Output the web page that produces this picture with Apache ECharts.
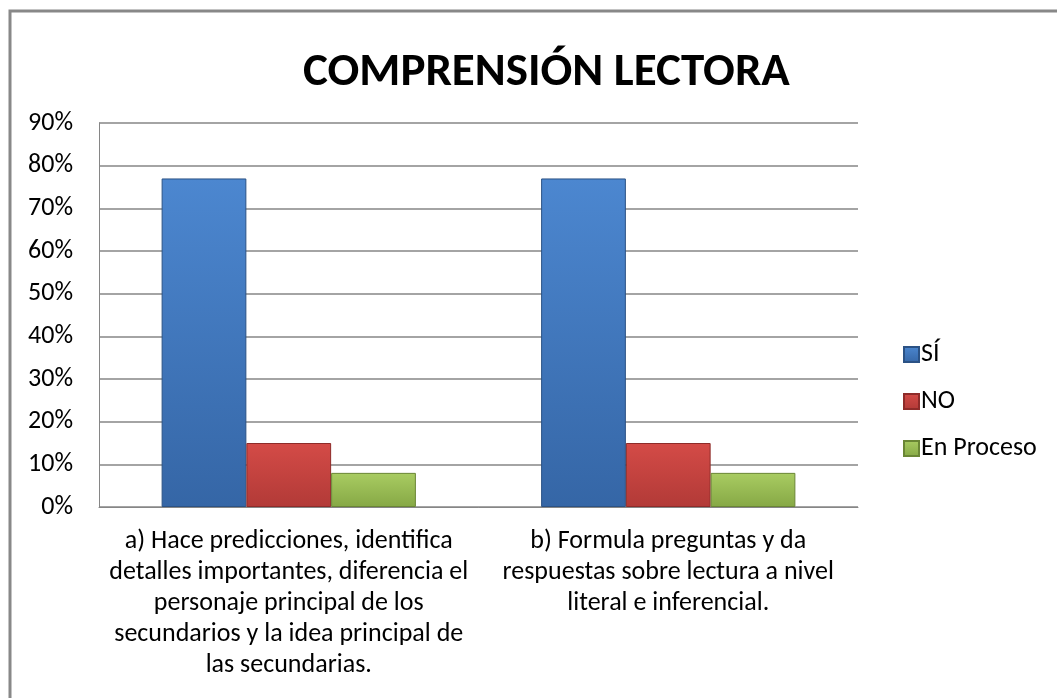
<!DOCTYPE html>
<html><head><meta charset="utf-8">
<script src="https://cdn.jsdelivr.net/npm/echarts@6/dist/echarts.min.js"></script>
<style>html,body{margin:0;padding:0;background:#fff}#c{width:1057px;height:698px}</style>
</head><body><div id="c"></div>
<script>
const titleText = 'COMPRENSIÓN LECTORA';
const categories = [
  'a) Hace predicciones, identifica\ndetalles importantes, diferencia el\npersonaje principal de los\nsecundarios y la idea principal de\nlas secundarias.',
  'b) Formula preguntas y da\nrespuestas sobre lectura a nivel\nliteral e inferencial.'
];
const seriesNames = ['SÍ', 'NO', 'En Proceso'];
const siValues = [77, 77];
const noValues = [15, 15];
const procesoValues = [8, 8];
const yTicks = [0, 10, 20, 30, 40, 50, 60, 70, 80, 90];

const FONT = 'Carlito, Calibri, Lato, sans-serif';
function grad(top, bottom) {
  return new echarts.graphic.LinearGradient(0, 0, 0, 1, [
    {offset: 0, color: top}, {offset: 1, color: bottom}
  ]);
}
const styles = [
  {color: grad('#4C87D0', '#3566A6'), borderColor: '#2B5285'},
  {color: grad('#D44B47', '#B23A37'), borderColor: '#8E2B29'},
  {color: grad('#A9CC62', '#86A845'), borderColor: '#6A8635'}
];
const dataSets = [siValues, noValues, procesoValues];

const chart = echarts.init(document.getElementById('c'));
chart.setOption({
  animation: false,
  title: {
    text: titleText, left: 298, top: 45,
    textStyle: {fontFamily: FONT, fontWeight: 'bold', fontSize: 47, color: '#000'}
  },
  graphic: [{
    type: 'rect', shape: {x: 10, y: 11, width: 1100, height: 800},
    style: {fill: 'none', stroke: '#888888', lineWidth: 3}, silent: true, z: -1
  }],
  legend: {
    orient: 'vertical', left: 898, top: 336,
    icon: 'rect',
    itemWidth: 15, itemHeight: 15, itemGap: 20,
    textStyle: {fontFamily: FONT, fontSize: 26, color: '#000', lineHeight: 27, padding: [0, 0, 0, -3]},
    data: seriesNames
  },
  grid: {left: 99, right: 199, top: 123, bottom: 191, containLabel: false},
  xAxis: {
    type: 'category', data: categories,
    axisLine: {lineStyle: {color: '#868686', width: 1}},
    axisTick: {show: false},
    axisLabel: {fontFamily: FONT, fontSize: 26, color: '#000', lineHeight: 31, margin: 19, interval: 0, align: 'center'}
  },
  yAxis: {
    type: 'value', min: 0, max: 90, interval: 10,
    axisLine: {show: true, lineStyle: {color: '#868686', width: 1}},
    axisTick: {show: false},
    splitLine: {lineStyle: {color: '#868686', width: 1.5}},
    axisLabel: {fontFamily: FONT, fontSize: 26, color: '#000', margin: 26,
      formatter: v => yTicks.includes(v) ? v + '%' : ''}
  },
  series: dataSets.map((d, i) => ({
    name: seriesNames[i], type: 'bar', data: d,
    barGap: '0%', barCategoryGap: '33%',
    itemStyle: Object.assign({borderWidth: 1}, styles[i])
  }))
});
</script></body></html>
